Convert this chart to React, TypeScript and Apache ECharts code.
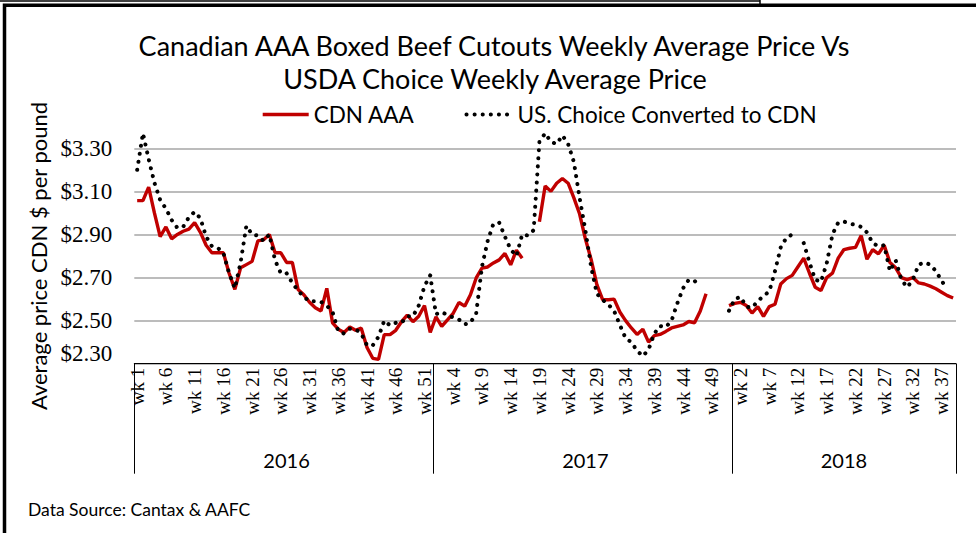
import React, { useEffect, useRef } from 'react';
import * as echarts from 'echarts';

const SANS = 'Lato, "Noto Sans", sans-serif';
const SERIF = '"Liberation Serif", "DejaVu Serif", serif';

const titleLines = [
  'Canadian AAA Boxed Beef Cutouts Weekly Average Price Vs',
  'USDA Choice Weekly Average Price',
];
const seriesNames = ['CDN AAA', 'US. Choice Converted to CDN'];
const yAxisTitle = 'Average price CDN $ per pound';
const sourceNote = 'Data Source: Cantax & AAFC';

const years = ['2016', '2017', '2018'];
const weeksPerYear = [52, 52, 39];

const cdn2016 = [3.057, 3.057, 3.12, 3.0, 2.89, 2.935, 2.88, 2.9, 2.915, 2.925, 2.955, 2.91, 2.85,
  2.815, 2.815, 2.815, 2.72, 2.645, 2.745, 2.76, 2.775, 2.87, 2.875, 2.9, 2.815, 2.815, 2.77, 2.77,
  2.645, 2.62, 2.585, 2.56, 2.545, 2.65, 2.49, 2.46, 2.445, 2.47, 2.455, 2.465, 2.375, 2.325, 2.32,
  2.435, 2.435, 2.455, 2.495, 2.525, 2.495, 2.52, 2.57, 2.445];
const cdn2017 = [2.518, 2.473, 2.503, 2.534, 2.584, 2.567, 2.62, 2.698, 2.744, 2.749, 2.768, 2.782,
  2.812, 2.759, 2.827, 2.79, null, null, 2.959, 3.125, 3.1, 3.138, 3.16, 3.138, 3.07, 2.995, 2.88,
  2.784, 2.667, 2.597, 2.597, 2.6, 2.54, 2.5, 2.466, 2.436, 2.46, 2.4, 2.43, 2.436, 2.45, 2.466,
  2.473, 2.48, 2.496, 2.49, 2.545, 2.625, null, null, null, 2.57];
const cdn2018 = [2.58, 2.585, 2.57, 2.535, 2.565, 2.52, 2.565, 2.576, 2.67, 2.695, 2.71, 2.75, 2.79,
  2.72, 2.655, 2.64, 2.7, 2.72, 2.79, 2.83, 2.836, 2.84, 2.895, 2.785, 2.83, 2.81, 2.85, 2.77, 2.745,
  2.7, 2.69, 2.7, 2.675, 2.67, 2.66, 2.648, 2.632, 2.616, 2.605];

const us2016 = [3.2, 3.37, 3.25, 3.14, 3.06, 3.02, 2.967, 2.93, 2.935, 2.98, 3.005, 2.975, 2.89,
  2.845, 2.838, 2.815, 2.72, 2.65, 2.77, 2.94, 2.9, 2.895, 2.87, 2.9, 2.78, 2.72, 2.72, 2.675, 2.64,
  2.61, 2.59, 2.59, 2.587, 2.57, 2.54, 2.45, 2.44, 2.462, 2.46, 2.44, 2.385, 2.385, 2.425, 2.5,
  2.478, 2.49, 2.49, 2.52, 2.52, 2.57, 2.66, 2.71];
const us2017 = [2.53, 2.54, 2.526, 2.515, 2.505, 2.483, 2.49, 2.534, 2.75, 2.87, 2.95, 2.955, 2.89,
  2.83, 2.8, 2.9, 2.895, 2.92, 3.33, 3.37, 3.33, 3.32, 3.36, 3.32, 3.236, 3.07, 2.92, 2.75, 2.625,
  2.596, 2.575, 2.545, 2.48, 2.418, 2.4, 2.36, 2.335, 2.366, 2.44, 2.475, 2.47, 2.5, 2.58, 2.65,
  2.69, 2.685, 2.655, null, null, null, null, 2.546];
const us2018 = [2.6, 2.61, 2.565, 2.56, 2.59, 2.615, 2.635, 2.73, 2.84, 2.885, 2.9, null, 2.86, 2.77,
  2.69, 2.68, 2.766, 2.9, 2.955, 2.96, 2.95, 2.945, 2.935, 2.91, 2.86, 2.845, 2.85, 2.73, 2.78, 2.69,
  2.655, 2.69, 2.76, 2.77, 2.76, 2.73, 2.685, 2.645, null];

const redLine = { color: '#c00000', width: 3.4 };
const dotLine = { color: '#000', width: 4, type: [0.1, 8], cap: 'round' };

export default function App() {
  const ref = useRef<HTMLDivElement>(null);

  useEffect(() => {
    const chart = echarts.init(ref.current as HTMLDivElement, null, { renderer: 'svg' });

    const categories: string[] = [];
    const yearOfCat: string[] = [];
    const yearLabelIdx = new Set<number>();
    let start = 0;
    weeksPerYear.forEach((n, yi) => {
      for (let w = 1; w <= n; w++) {
        categories.push('wk ' + w);
        yearOfCat.push(years[yi]);
      }
      yearLabelIdx.add(start + Math.floor(n / 2));
      start += n;
    });
    const total = categories.length;
    const cdn = [...cdn2016, ...cdn2017, ...cdn2018];
    const us = [...us2016, ...us2017, ...us2018];

    const option: any = {
      animation: false,
      textStyle: { fontFamily: SANS },
      legend: {
        top: 98,
        left: 256,
        itemWidth: 46,
        itemHeight: 14,
        itemGap: 50,
        itemStyle: { opacity: 0 },
        textStyle: { fontFamily: SANS, fontSize: 22.5, color: '#000' },
        data: [
          { name: seriesNames[0], lineStyle: { ...redLine } },
          { name: seriesNames[1], lineStyle: { ...dotLine, width: 4 } },
        ],
      },
      grid: { left: 134.3, right: 20, top: 148.3, bottom: 169.3, containLabel: false },
      xAxis: [
        {
          type: 'category',
          data: categories,
          boundaryGap: true,
          position: 'bottom',
          axisLine: { show: true, onZero: false, lineStyle: { color: '#000', width: 1 } },
          axisTick: { show: false },
          axisLabel: {
            interval: 4,
            rotate: 90,
            margin: 4,
            fontFamily: SERIF,
            fontSize: 19,
            color: '#000',
          },
          splitLine: { show: false },
        },
        {
          type: 'value',
          min: 0,
          max: total,
          interval: 52,
          position: 'bottom',
          axisLine: { show: false, onZero: false },
          axisTick: { show: true, length: 110, lineStyle: { color: '#000', width: 1 } },
          axisLabel: { show: false },
          splitLine: { show: false },
        },
        {
          type: 'category',
          data: yearOfCat,
          boundaryGap: true,
          position: 'bottom',
          axisLine: { show: false, onZero: false },
          axisTick: { show: false },
          axisLabel: {
            interval: (i: number) => yearLabelIdx.has(i),
            margin: 86,
            fontFamily: SANS,
            fontSize: 20,
            color: '#000',
          },
          splitLine: { show: false },
        },
      ],
      yAxis: {
        type: 'value',
        min: 2.3,
        max: 3.3,
        interval: 0.2,
        name: yAxisTitle,
        nameLocation: 'middle',
        nameRotate: 90,
        nameGap: 83,
        nameTextStyle: { fontFamily: SANS, fontSize: 22, color: '#000' },
        axisLine: { show: false },
        axisTick: { show: false },
        axisLabel: {
          margin: 22,
          fontFamily: SERIF,
          fontSize: 23,
          color: '#000',
          formatter: (v: number) => {
            const s = '$' + v.toFixed(2);
            return Math.abs(v - 2.3) < 1e-6 ? '{low|' + s + '}' : s;
          },
          rich: {
            low: { fontFamily: SERIF, fontSize: 23, color: '#000', padding: [0, 0, 20, 0] },
          },
        },
        splitLine: { show: true, lineStyle: { color: '#a6a6a6', width: 1.5 } },
      },
      series: [
        {
          name: seriesNames[0],
          type: 'line',
          data: cdn,
          xAxisIndex: 0,
          symbol: 'none',
          clip: false,
          connectNulls: false,
          lineStyle: redLine,
          itemStyle: { color: '#c00000' },
        },
        {
          name: seriesNames[1],
          type: 'line',
          data: us,
          xAxisIndex: 0,
          symbol: 'none',
          clip: false,
          connectNulls: false,
          lineStyle: dotLine,
          itemStyle: { color: '#000' },
        },
      ],
      graphic: [
        {
          type: 'rect',
          shape: { x: 4.5, y: 5.3, width: 1200, height: 1000 },
          style: { fill: 'none', stroke: '#000', lineWidth: 3.5 },
          silent: true,
        },
        {
          type: 'line',
          shape: { x1: 0, y1: 1, x2: 760, y2: 1 },
          style: { stroke: '#000', lineWidth: 1.5 },
          silent: true,
        },
        {
          type: 'line',
          shape: { x1: 760, y1: 0, x2: 760, y2: 5 },
          style: { stroke: '#000', lineWidth: 1.5 },
          silent: true,
        },
        {
          type: 'text',
          x: 494,
          y: 45,
          style: {
            text: titleLines[0],
            align: 'center',
            verticalAlign: 'middle',
            fontFamily: SANS,
            fontSize: 27,
            fill: '#000',
          },
        },
        {
          type: 'text',
          x: 495,
          y: 78,
          style: {
            text: titleLines[1],
            align: 'center',
            verticalAlign: 'middle',
            fontFamily: SANS,
            fontSize: 27,
            fill: '#000',
          },
        },
        {
          type: 'text',
          x: 28,
          y: 509,
          style: {
            text: sourceNote,
            align: 'left',
            verticalAlign: 'middle',
            fontFamily: SANS,
            fontSize: 17.5,
            fill: '#000',
          },
        },
      ],
    };

    chart.setOption(option);
    return () => chart.dispose();
  }, []);

  return (
    <div
      ref={ref}
      style={{ position: 'fixed', left: 0, top: 0, width: 976, height: 533, background: '#fff' }}
    />
  );
}
